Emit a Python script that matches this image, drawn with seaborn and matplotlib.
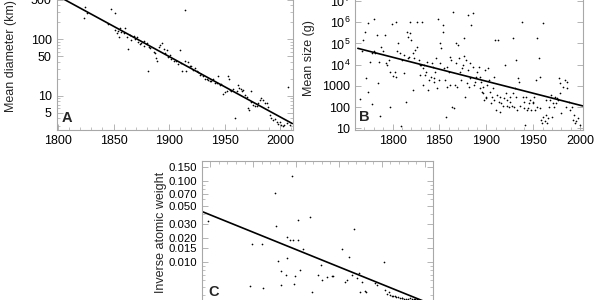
import pandas as pd
import seaborn as sns
import matplotlib.pyplot as plt
from matplotlib.ticker import FixedLocator, FixedFormatter, NullFormatter, MultipleLocator

sns.set_style("ticks")
plt.rcParams['font.family'] = ['Liberation Sans', 'DejaVu Sans']
plt.rcParams['mathtext.fontset'] = 'custom'
plt.rcParams['mathtext.rm'] = 'Liberation Sans'
plt.rcParams['mathtext.it'] = 'Liberation Sans:italic'

# Panel A: mean diameter (km) by year
a_years = [1823, 1824, 1826, 1848, 1851, 1845, 1851, 1853, 1854, 1856, 1855, 1857, 1859, 1860,
           1862, 1863, 1865, 1866, 1868, 1869, 1871, 1872, 1874, 1875, 1877, 1877, 1880, 1881,
           1882, 1883, 1886, 1887, 1888, 1889, 1891, 1892, 1894, 1895, 1896, 1898, 1899, 1901,
           1902, 1904, 1906, 1908, 1910, 1911, 1912, 1914, 1914, 1915, 1917, 1919, 1920, 1922,
           1923, 1925, 1926, 1928, 1929, 1931, 1932, 1934, 1935, 1937, 1938, 1940, 1941, 1943,
           1944, 1946, 1947, 1949, 1950, 1952, 1953, 1954, 1955, 1956, 1958, 1959, 1961, 1962,
           1963, 1965, 1966, 1967, 1968, 1970, 1971, 1972, 1974, 1974, 1976, 1977, 1979, 1980,
           1982, 1983, 1985, 1986, 1988, 1989, 1991, 1992, 1994, 1995, 1997, 1998, 2000, 2001,
           2003, 2004, 2006, 2007, 2009]
a_diam = [233, 364, 286, 336, 293, 185, 145, 127, 141, 155, 108, 136, 127, 155,
          111, 66, 118, 97, 114, 99, 108, 90, 82, 87, 76, 94, 84, 27,
          74, 69, 60, 56, 46, 42, 74, 79, 84, 66, 58, 64, 48, 53,
          44, 41, 42, 37, 64, 38, 27, 42, 327, 28, 40, 33, 34, 29,
          31, 27, 26, 23, 24, 22, 20, 19.6, 19, 18.6, 18, 19.6, 17, 16.6,
          22.4, 15.6, 16, 10.8, 11.9, 12.3, 22, 20, 12.7, 12.3, 13, 4.0, 12.3, 15.6,
          14, 13, 12, 12.7, 10.4, 9.7, 6.0, 5.6, 12.3, 7.9, 6.9, 6.5, 6.6, 7.4,
          8.5, 9.0, 8.3, 7.6, 7.4, 6.3, 4.6, 4.0, 3.7, 3.9, 3.5, 3.2, 3.4, 3.06,
          2.94, 3.06, 3.3, 14.5, 3.06]
a_fit_years = [1799, 2011]
a_fit_vals = [590, 3.25]

# Panel B: mean size (g) by year
b_years = [1765, 1767, 1768, 1771, 1772, 1774, 1774, 1776, 1778, 1778, 1780, 1780, 1781, 1783,
           1784, 1786, 1787, 1788, 1790, 1792, 1793, 1794, 1796, 1797, 1797, 1799, 1801, 1803,
           1804, 1804, 1805, 1806, 1808, 1809, 1810, 1812, 1812, 1814, 1815, 1816, 1817, 1818,
           1819, 1819, 1820, 1822, 1822, 1823, 1824, 1826, 1826, 1828, 1829, 1829, 1830, 1831,
           1832, 1833, 1834, 1835, 1836, 1837, 1838, 1839, 1841, 1842, 1843, 1844, 1844, 1845,
           1846, 1847, 1849, 1850, 1851, 1851, 1852, 1854, 1854, 1855, 1856, 1857, 1858, 1858,
           1860, 1861, 1861, 1862, 1863, 1864, 1866, 1867, 1868, 1868, 1869, 1870, 1871, 1872,
           1873, 1874, 1875, 1876, 1876, 1877, 1878, 1879, 1880, 1881, 1882, 1883, 1883, 1884,
           1886, 1886, 1887, 1888, 1889, 1890, 1892, 1893, 1893, 1894, 1895, 1896, 1897, 1898,
           1899, 1900, 1900, 1901, 1902, 1903, 1904, 1905, 1906, 1907, 1908, 1908, 1909, 1910,
           1911, 1913, 1914, 1915, 1915, 1916, 1918, 1919, 1920, 1921, 1922, 1922, 1924, 1925,
           1925, 1927, 1928, 1929, 1930, 1931, 1932, 1932, 1933, 1934, 1935, 1936, 1938, 1939,
           1940, 1940, 1941, 1942, 1943, 1945, 1946, 1947, 1948, 1950, 1950, 1951, 1952, 1953,
           1954, 1954, 1956, 1957, 1957, 1958, 1959, 1960, 1961, 1963, 1964, 1964, 1965, 1966,
           1967, 1968, 1969, 1970, 1971, 1972, 1973, 1974, 1975, 1977, 1978, 1979, 1979, 1980,
           1982, 1984, 1985, 1986, 1986, 1988, 1989, 1991, 1992, 1994, 1995, 1996, 1998, 2000]
b_size = [240, 4.2e4, 1.5e5, 3.6e5, 2300, 9.6e5, 540, 1.4e4, 3.5e4, 140, 1.5e6, 4.2e4, 3.5e4, 2.5e5,
          1300, 1.4e4, 38, 7.1e4, 4.2e4, 2.5e5, 1.2e4, 9800, 1.7e4, 105, 4300, 8.3e5, 2900, 4700,
          2700, 1.07e6, 4.2e4, 1.0e5, 3.5e4, 13, 1.7e4, 3900, 2.9e4, 180, 3.6e5, 2.0e4, 2.1e5, 2.4e4,
          1.07e6, 3.0e5, 1.5e5, 650, 3.5e4, 2.0e4, 4.9e4, 1.07e6, 7.1e4, 1.7e4, 9800, 3300, 9800, 1.07e6,
          1100, 6800, 9800, 3300, 4700, 1.4e4, 650, 1900, 2700, 1.25e4, 8100, 1600, 2300, 4700,
          2.0e4, 780, 1.5e6, 1900, 1.2e4, 1.0e5, 5.9e4, 7.5e5, 3.6e5, 6800, 1900, 35, 8100, 930,
          4700, 1100, 2.4e4, 1.7e4, 105, 2.9e6, 88, 1100, 1.0e5, 1.2e4, 930, 8.5e4, 2.0e4, 4700,
          1900, 6800, 9800, 2.6e4, 1.8e5, 310, 1.7e4, 1300, 5600, 2.2e6, 930, 2300, 1.2e4, 7.5e5,
          8100, 2.6e6, 1100, 1600, 2700, 4700, 8100, 780, 2700, 1600, 540, 450, 930, 220,
          5600, 310, 260, 1100, 6800, 1900, 540, 150, 310, 780, 220, 2700, 1.5e5, 73,
          370, 1.5e5, 180, 310, 61, 150, 110, 260, 9800, 450, 220, 110, 105, 310,
          180, 110, 1.8e5, 450, 105, 780, 1.7e4, 310, 73, 2300, 1600, 110, 1.07e6, 310,
          88, 180, 14, 310, 73, 88, 150, 220, 73, 180, 150, 310, 73, 1900,
          1.8e5, 105, 2.0e4, 2700, 88, 25, 17, 9.6e5, 35, 21, 220, 43, 17, 30,
          105, 220, 370, 35, 150, 105, 310, 150, 260, 220, 2300, 450, 1300, 51,
          930, 1900, 105, 1600, 780, 180, 73, 105, 25, 43, 17, 21, 30, 14]
b_fit_years = [1763, 2003]
b_fit_vals = [5.9e4, 113]

# Panel C: inverse atomic weight by year
c_years = [1747, 1796, 1799, 1810, 1812, 1825, 1827, 1829, 1833, 1833, 1838, 1839, 1840, 1843,
           1845, 1846, 1848, 1849, 1852, 1852, 1855, 1858, 1866, 1868, 1876, 1879, 1880, 1886,
           1892, 1893, 1904, 1907, 1909, 1912, 1915, 1918, 1921, 1923, 1924, 1927, 1930, 1932,
           1942, 1944, 1952, 1954, 1956, 1958, 1960, 1962, 1963, 1965, 1967, 1969, 1971, 1973,
           1974, 1976, 1978, 1980, 1983, 1985, 1987, 1989, 1991, 1993]
c_inv_weight = [0.0327, 0.00515, 0.0170, 0.0170, 0.00482, 0.0718, 0.0284, 0.0105, 0.00789, 0.00530,
                0.00705, 0.0113, 0.0205, 0.0187, 0.115, 0.0190, 0.00545, 0.00684, 0.0330, 0.0190,
                0.00797, 0.0146, 0.0363, 0.00426, 0.00705, 0.00936, 0.00611, 0.00659, 0.00672, 0.00684,
                0.0146, 0.00566, 0.00611, 0.0116, 0.00705, 0.0258, 0.00641, 0.00738, 0.00426, 0.00566,
                0.00438, 0.00426, 0.00556, 0.00530, 0.0100, 0.00460, 0.00410, 0.00426, 0.00399, 0.00388,
                0.00380, 0.00380, 0.00373, 0.00373, 0.00366, 0.00363, 0.00360, 0.00356, 0.00353, 0.00353,
                0.00360, 0.00353, 0.00350, 0.00350, 0.00350, 0.00346]
c_fit_years = [1740, 2010]
c_fit_vals = [0.0426, 0.00297]

a_df = pd.DataFrame({'year': a_years, 'val': a_diam})
b_df = pd.DataFrame({'year': b_years, 'val': b_size})
c_df = pd.DataFrame({'year': c_years, 'val': c_inv_weight})

fig = plt.figure(figsize=(6, 3), dpi=100)
ax_a = fig.add_axes([0.0942, 0.5667, 0.3942, 0.4917])
ax_b = fig.add_axes([0.5917, 0.5667, 0.38, 0.4634])
ax_c = fig.add_axes([0.3362, -0.0633, 0.386, 0.5253])


def style(ax):
    for s in ax.spines.values():
        s.set_color('#a8a8a8')
        s.set_linewidth(0.8)
    ax.tick_params(which='both', direction='in', top=True, right=True,
                   color='#a8a8a8', labelsize=9, labelcolor='black')
    ax.tick_params(which='major', length=4, width=0.6)
    ax.tick_params(which='minor', length=2, width=0.5)
    ax.yaxis.set_minor_formatter(NullFormatter())
    ax.xaxis.set_major_locator(MultipleLocator(50))
    ax.xaxis.set_minor_locator(MultipleLocator(10))


for ax, df, fx, fy in [(ax_a, a_df, a_fit_years, a_fit_vals),
                       (ax_b, b_df, b_fit_years, b_fit_vals),
                       (ax_c, c_df, c_fit_years, c_fit_vals)]:
    sns.scatterplot(data=df, x='year', y='val', ax=ax, s=1.5, color='black',
                    linewidth=0, legend=False)
    sns.lineplot(x=fx, y=fy, ax=ax, color='black', linewidth=1.2)
    ax.set_yscale('log')
    ax.set_xlabel('')
    style(ax)

# Panel A
ax_a.set_xlim(1798.6, 2011.7)
ax_a.set_ylim(2.5, 1000)
a_ticks = [5, 10, 50, 100, 500]
ax_a.yaxis.set_major_locator(FixedLocator(a_ticks))
ax_a.yaxis.set_major_formatter(FixedFormatter([str(t) for t in a_ticks]))
ax_a.set_ylabel('Mean diameter (km)', fontsize=9)
ax_a.yaxis.set_label_coords(-0.165, 0.5)
ax_a.text(0.022, 0.08, 'A', transform=ax_a.transAxes, fontsize=10.5,
          fontweight='bold', ha='left', va='center')

# Panel B
ax_b.set_xlim(1760, 2003.2)
ax_b.set_ylim(8.3, 3e7)
b_ticks = [10, 100, 1000, 1e4, 1e5, 1e6, 1e7]
b_labels = ['10', '100', '1000', r'$10^4$', r'$10^5$', r'$10^6$', r'$10^7$']
ax_b.yaxis.set_major_locator(FixedLocator(b_ticks))
ax_b.yaxis.set_major_formatter(FixedFormatter(b_labels))
ax_b.set_ylabel('Mean size (g)', fontsize=9)
ax_b.yaxis.set_label_coords(-0.176, 0.52)
ax_b.text(0.018, 0.094, 'B', transform=ax_b.transAxes, fontsize=10.5,
          fontweight='bold', ha='left', va='center')

# Panel C
ax_c.set_xlim(1740, 2010)
ax_c.set_ylim(0.002, 0.1766)
c_ticks = [0.010, 0.015, 0.020, 0.030, 0.050, 0.070, 0.100, 0.150]
ax_c.yaxis.set_major_locator(FixedLocator(c_ticks))
ax_c.yaxis.set_major_formatter(FixedFormatter(['%.3f' % t for t in c_ticks]))
ax_c.tick_params(axis='y', which='major', labelsize=8.2)
ax_c.set_ylabel('Inverse atomic weight', fontsize=9)
ax_c.yaxis.set_label_coords(-0.152, 0.552)
ax_c.text(0.03, 0.171, 'C', transform=ax_c.transAxes, fontsize=10.5,
          fontweight='bold', ha='left', va='center')

fig.savefig('out.png', dpi=100)
